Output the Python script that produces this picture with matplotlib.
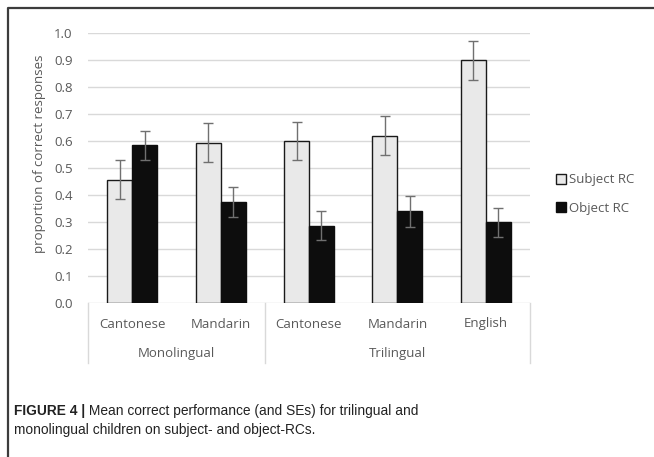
import matplotlib
matplotlib.use("Agg")
import matplotlib.pyplot as plt
from matplotlib.lines import Line2D
from matplotlib.patches import Patch
import matplotlib.transforms as mtransforms
import numpy as np

# ---- data ----
categories = ["Cantonese", "Mandarin", "Cantonese", "Mandarin", "English"]
groups = ["Monolingual", "Trilingual"]
group_sizes = [2, 3]
subject_rc = [0.457, 0.593, 0.600, 0.619, 0.899]
subject_se = [0.073, 0.072, 0.072, 0.072, 0.073]
object_rc = [0.584, 0.374, 0.286, 0.339, 0.299]
object_se = [0.054, 0.055, 0.054, 0.056, 0.054]
yticks = [0.0, 0.1, 0.2, 0.3, 0.4, 0.5, 0.6, 0.7, 0.8, 0.9, 1.0]
series_names = ["Subject RC", "Object RC"]
caption_bold = "FIGURE 4 |"
caption_rest = " Mean correct performance (and SEs) for trilingual and"
caption_line2 = "monolingual children on subject- and object-RCs."

W, H = 654, 457
fig = plt.figure(figsize=(W / 100, H / 100), dpi=100)

chart_font = ["Open Sans", "DejaVu Sans"]
text_col = "#595959"

ax = fig.add_axes([88 / W, 1 - 303 / H, (530 - 88) / W, (303 - 33) / H])
x = np.arange(len(categories))
bw = 0.282

ax.bar(x - bw / 2, subject_rc, bw, color="#e9e9e9", edgecolor="#1a1a1a", linewidth=1.0, zorder=3)
ax.bar(x + bw / 2, object_rc, bw, color="#0d0d0d", edgecolor="#0d0d0d", linewidth=1.0, zorder=3)
ax.errorbar(x - bw / 2, subject_rc, yerr=subject_se, fmt="none", ecolor="#707070",
            elinewidth=1.0, capsize=3.5, capthick=1.0, zorder=4)
ax.errorbar(x + bw / 2, object_rc, yerr=object_se, fmt="none", ecolor="#707070",
            elinewidth=1.0, capsize=3.5, capthick=1.0, zorder=4)

ax.set_xlim(-0.5, len(categories) - 0.5)
ax.set_ylim(0, 1.0)
ax.set_yticks(yticks)
ax.set_yticklabels([f"{v:.1f}" for v in yticks], fontfamily=chart_font, fontsize=9.5, color=text_col)
ax.tick_params(axis="y", length=0, pad=11)
ax.set_xticks([])
for s in ax.spines.values():
    s.set_visible(False)
ax.yaxis.grid(True, color="#d9d9d9", linewidth=1.0, zorder=0)
ax.set_axisbelow(True)

trans = mtransforms.blended_transform_factory(ax.transData, ax.transAxes)
ylab_cat = (303 - 324) / 270
ylab_grp = (303 - 353) / 270
ysep = -(363 - 303) / 270
for i, c in enumerate(categories):
    ax.text(i, ylab_cat, c, transform=trans, ha="center", va="center",
            fontfamily=chart_font, fontsize=9.5, color=text_col)
start = -0.5
seps = [start]
for g, n in zip(groups, group_sizes):
    ax.text(start + n / 2, ylab_grp, g, transform=trans, ha="center", va="center",
            fontfamily=chart_font, fontsize=9.5, color=text_col)
    start += n
    seps.append(start)
for s in seps:
    ax.plot([s, s], [0, ysep], transform=trans, color="#d9d9d9", linewidth=1.0, clip_on=False)

fig.text(40 / W, 1 - 154 / H, "proportion of correct responses", rotation=90,
         ha="center", va="center", fontfamily=chart_font, fontsize=9.5, color=text_col)

handles = [Patch(facecolor="#e9e9e9", edgecolor="#1a1a1a", linewidth=1.0),
           Patch(facecolor="#0d0d0d", edgecolor="#0d0d0d", linewidth=1.0)]
fig.legend(handles, series_names, loc="center left", bbox_to_anchor=(544 / W, 1 - 194 / H),
           frameon=False, handlelength=0.75, handleheight=0.75, handletextpad=0.25,
           labelspacing=1.15, prop={"family": chart_font, "size": 9.5}, labelcolor=text_col)

# frame
fig.add_artist(Line2D([8 / W, 8 / W, 1.0], [0.0, 1 - 8.3 / H, 1 - 8.3 / H],
                      transform=fig.transFigure, color="#3c3c3c", linewidth=1.6))

cap_font = ["Liberation Sans", "DejaVu Sans"]
cap_size = 9.9
t1 = fig.text(13.5 / W, 1 - 411.5 / H, caption_bold, ha="left", va="center",
              fontfamily=cap_font, fontsize=cap_size, fontweight="bold", color="#222222")
ax.annotate(caption_rest, xy=(1, 0.5), xycoords=t1, ha="left", va="center",
            fontfamily=cap_font, fontsize=cap_size, color="#222222", annotation_clip=False)
fig.text(13.5 / W, 1 - 430 / H, caption_line2, ha="left", va="center",
         fontfamily=cap_font, fontsize=cap_size, color="#222222")

fig.savefig("out.png", dpi=100)
